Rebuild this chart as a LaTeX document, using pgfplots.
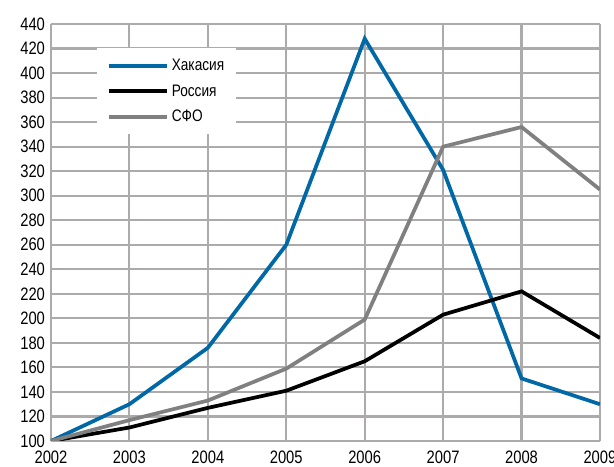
\documentclass[border=0pt]{standalone}
\usepackage{pgfplots}
\pgfplotsset{compat=1.18}
\usepackage{fontspec}
\setmainfont{Liberation Sans}[FakeStretch=0.82]
\definecolor{khblue}{RGB}{0,104,166}
\definecolor{sfogray}{RGB}{128,128,128}
\definecolor{gridgray}{RGB}{172,170,170}
\begin{document}
\begin{tikzpicture}
\begin{axis}[
  at={(0,0)}, anchor=origin,
  scale only axis,
  width=411.75pt, height=312.75pt,
  xmin=2002, xmax=2009, ymin=100, ymax=440,
  xtick={2002,...,2009},
  ytick={100,120,...,440},
  xticklabel style={/pgf/number format/1000 sep={}},
  /pgf/number format/assume math mode=true,
  tick label style={font=\fontsize{13.5}{15}\selectfont},
  major tick length=0pt,
  xmajorgrids, ymajorgrids,
  grid style={gridgray, line width=1.6pt},
  axis line style={gridgray, line width=1.6pt},
  axis x line*=bottom, axis y line*=left,
  yticklabel style={xshift=-1pt},
  xticklabel style={yshift=-4pt},
  legend style={at={(0.084,0.942)}, anchor=north west, draw=none, fill=white,
    font=\fontsize{12.5}{15}\selectfont, row sep=5pt, inner xsep=7pt, inner ysep=6pt},
  legend cell align=left,
  legend image code/.code={\draw[#1, line width=2.8pt] (0pt,0pt) -- (44pt,0pt);},
  every axis plot/.append style={line width=2.8pt, mark=none},
]
\addplot[khblue] coordinates {
  (2002,100) (2003,130) (2004,176) (2005,260) (2006,428) (2007,321) (2008,151) (2009,130)};
\addlegendentry{Хакасия}
\addplot[black] coordinates {
  (2002,100) (2003,111) (2004,127) (2005,141) (2006,165) (2007,203) (2008,222) (2009,184)};
\addlegendentry{Россия}
\addplot[sfogray] coordinates {
  (2002,100) (2003,117) (2004,133) (2005,159) (2006,199) (2007,340) (2008,356) (2009,305)};
\addlegendentry{СФО}
\end{axis}
\pgfresetboundingbox
\path (-38.25pt,-19.5pt) rectangle (422.25pt,330.75pt);
\end{tikzpicture}
\end{document}
